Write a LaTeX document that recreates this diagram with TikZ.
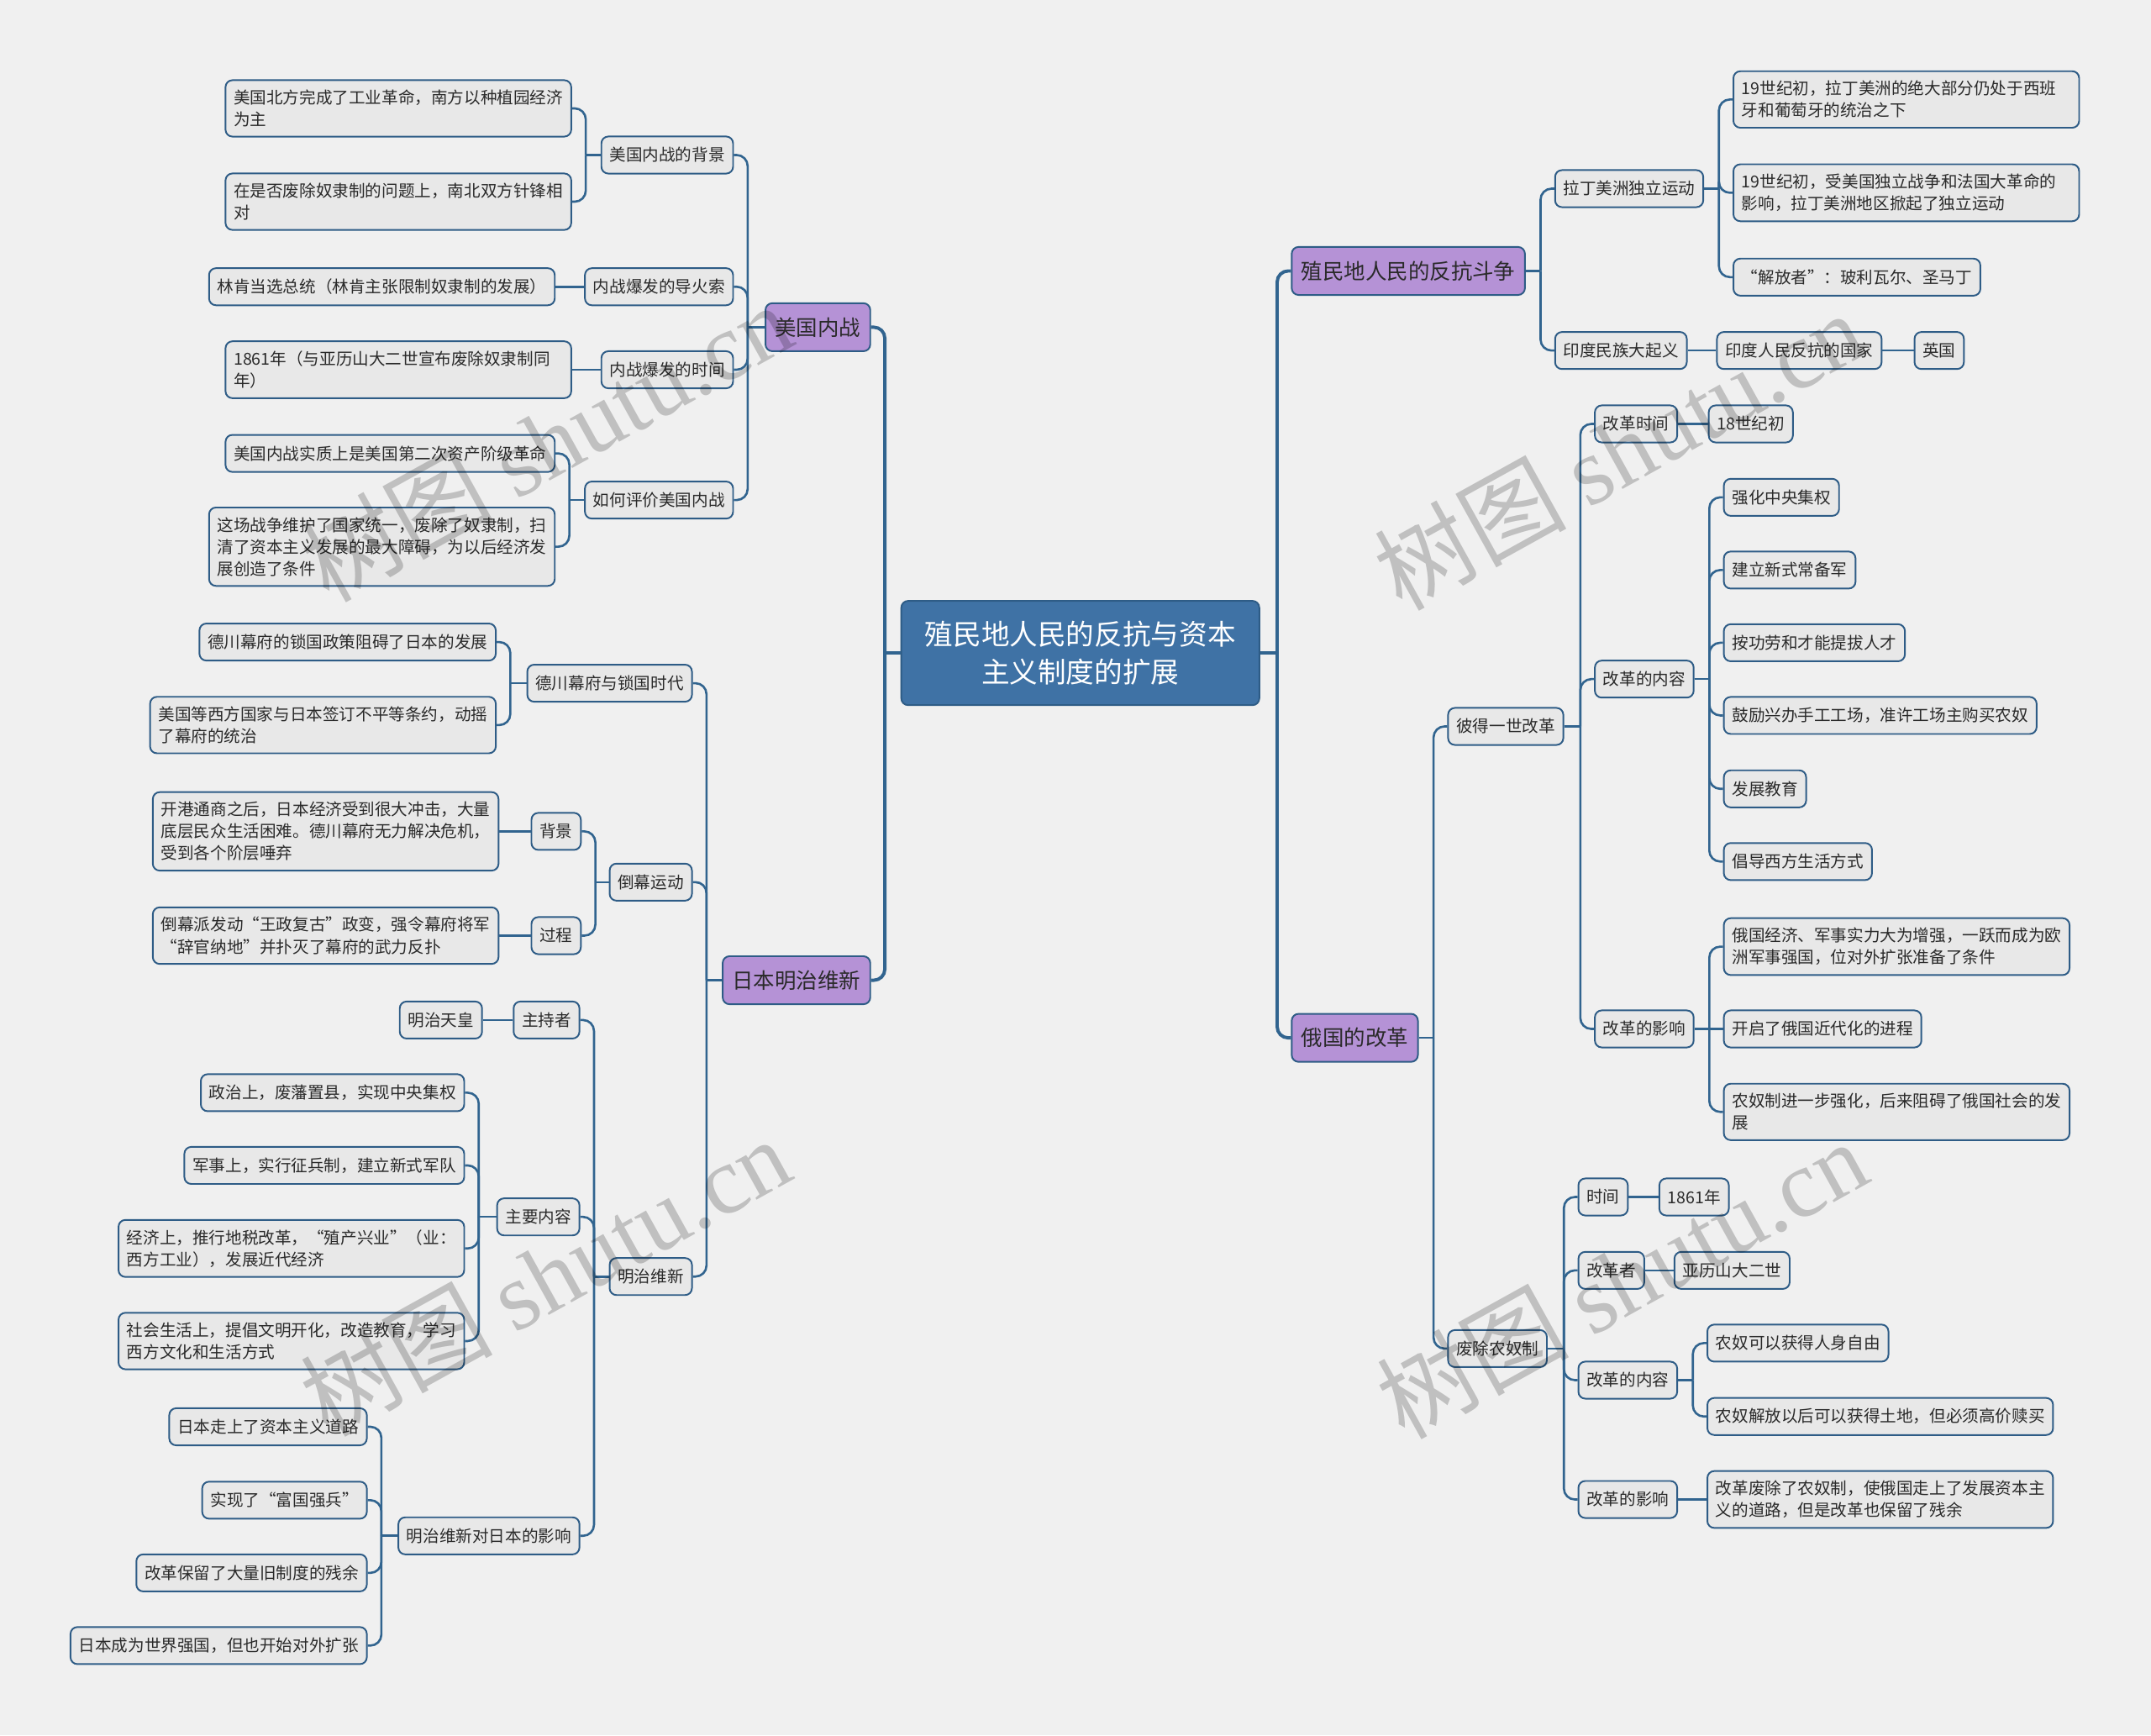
\documentclass[tikz,border=0pt]{standalone}
\usepackage{fontspec}
\setmainfont{Noto Sans CJK SC}
\newfontfamily\wmserif{Liberation Serif}
\usetikzlibrary{calc}
\definecolor{bgc}{HTML}{F0F0F0}
\definecolor{ctrc}{HTML}{3F72A5}
\definecolor{purc}{HTML}{B592D6}
\definecolor{grc}{HTML}{E8E8E8}
\definecolor{edgec}{HTML}{2E5C86}
\definecolor{linec}{HTML}{31648F}
\definecolor{txtc}{HTML}{2A2A2A}
\tikzset{
 centerbox/.style={draw=edgec, fill=ctrc, line width=0.6pt, rounded corners=2.5pt, text=white, font=\fontsize{10.3}{14}\selectfont, align=center, minimum width=130.5pt, minimum height=38pt, inner sep=0pt},
 mainbox/.style={draw=edgec, fill=purc, line width=0.6pt, rounded corners=2.5pt, text=txtc, font=\fontsize{7.8}{9}\selectfont, inner xsep=3.5pt, inner ysep=0pt, minimum height=17.5pt},
 subbox/.style={draw=edgec, fill=grc, line width=0.6pt, rounded corners=2.5pt, text=txtc, font=\fontsize{6}{8}\selectfont, inner xsep=3pt, inner ysep=3.5pt, minimum height=13.5pt},
 multibox/.style={subbox, text width=120pt, align=left},
 conA/.style={draw=linec, line width=1.2pt},
 conB/.style={draw=linec, line width=0.8pt},
 wmark/.style={rotate=29, text=black, opacity=0.2, font=\fontsize{35}{35}\selectfont, inner sep=0pt},
}
\newcommand\lkR[3]{%
 \draw[#1] let \p1=(#2.east), \p2=(#3.west) in (\p1) -- (\x2-5pt,\y1);
 \draw[#1, rounded corners=4pt] let \p1=(#2.east), \p2=(#3.west) in (\x2-5pt,\y1) -- (\x2-5pt,\y2) -- (\p2);}
\newcommand\lkL[3]{%
 \draw[#1] let \p1=(#2.west), \p2=(#3.east) in (\p1) -- (\x2+5pt,\y1);
 \draw[#1, rounded corners=4pt] let \p1=(#2.west), \p2=(#3.east) in (\x2+5pt,\y1) -- (\x2+5pt,\y2) -- (\p2);}
\newcommand\lkS[3]{\draw[#1] (#2) -- (#3);}
\begin{document}
\begin{tikzpicture}[x=0.5pt,y=-0.5pt]
\fill[bgc] (0,0) rectangle (1568,1265);
\useasboundingbox (0,0) rectangle (1568,1265);

% center and main branches
\node[centerbox] (c) at (787.5,476) {殖民地人民的反抗与资本\\主义制度的扩展};
\node[mainbox, anchor=east] (us) at (635,238.5) {美国内战};
\node[mainbox, anchor=east] (jp) at (635,714.5) {日本明治维新};
\node[mainbox, anchor=west] (col) at (941,197.5) {殖民地人民的反抗斗争};
\node[mainbox, anchor=west] (ru) at (941,756.5) {俄国的改革};

% US civil war
\node[subbox, anchor=east] (usA) at (535,113) {美国内战的背景};
\node[multibox, anchor=east] (usA1) at (417,79) {美国北方完成了工业革命，南方以种植园经济\\为主};
\node[multibox, anchor=east] (usA2) at (417,147) {在是否废除奴隶制的问题上，南北双方针锋相\\对};
\node[subbox, anchor=east] (usB) at (535,209) {内战爆发的导火索};
\node[subbox, anchor=east] (usB1) at (405,209) {林肯当选总统（林肯主张限制奴隶制的发展）};
\node[subbox, anchor=east] (usC) at (535,269.5) {内战爆发的时间};
\node[multibox, anchor=east] (usC1) at (417,269.5) {1861年（与亚历山大二世宣布废除奴隶制同\\年）};
\node[subbox, anchor=east] (usD) at (535,364.5) {如何评价美国内战};
\node[subbox, anchor=east] (usD1) at (405,330.5) {美国内战实质上是美国第二次资产阶级革命};
\node[multibox, anchor=east] (usD2) at (405,398.5) {这场战争维护了国家统一，废除了奴隶制，扫\\清了资本主义发展的最大障碍，为以后经济发\\展创造了条件};

% Japan
\node[subbox, anchor=east] (jpA) at (505,498) {德川幕府与锁国时代};
\node[subbox, anchor=east] (jpA1) at (362,468) {德川幕府的锁国政策阻碍了日本的发展};
\node[multibox, anchor=east] (jpA2) at (362,528.5) {美国等西方国家与日本签订不平等条约，动摇\\了幕府的统治};
\node[subbox, anchor=east] (jpB) at (505,643) {倒幕运动};
\node[subbox, anchor=east] (jpB1) at (424,606) {背景};
\node[multibox, anchor=east] (jpB1a) at (364,606) {开港通商之后，日本经济受到很大冲击，大量\\底层民众生活困难。德川幕府无力解决危机，\\受到各个阶层唾弃};
\node[subbox, anchor=east] (jpB2) at (424,682) {过程};
\node[multibox, anchor=east] (jpB2a) at (364,682) {倒幕派发动“王政复古”政变，强令幕府将军\\“辞官纳地”并扑灭了幕府的武力反扑};
\node[subbox, anchor=east] (jpC) at (505,930.5) {明治维新};
\node[subbox, anchor=east] (jpC1) at (423,743.5) {主持者};
\node[subbox, anchor=east] (jpC1a) at (352,743.5) {明治天皇};
\node[subbox, anchor=east] (jpC2) at (423,887) {主要内容};
\node[subbox, anchor=east] (jpC2a) at (339,796.5) {政治上，废藩置县，实现中央集权};
\node[subbox, anchor=east] (jpC2b) at (339,849.5) {军事上，实行征兵制，建立新式军队};
\node[multibox, anchor=east] (jpC2c) at (339,910) {经济上，推行地税改革，“殖产兴业”（业：\\西方工业），发展近代经济};
\node[multibox, anchor=east] (jpC2d) at (339,977.5) {社会生活上，提倡文明开化，改造教育，学习\\西方文化和生活方式};
\node[subbox, anchor=east] (jpC3) at (423,1119.5) {明治维新对日本的影响};
\node[subbox, anchor=east] (jpC3a) at (268,1040) {日本走上了资本主义道路};
\node[subbox, anchor=east] (jpC3b) at (268,1093.5) {实现了“富国强兵”};
\node[subbox, anchor=east] (jpC3c) at (268,1146.5) {改革保留了大量旧制度的残余};
\node[subbox, anchor=east] (jpC3d) at (268,1199.5) {日本成为世界强国，但也开始对外扩张};

% colonial struggles
\node[subbox, anchor=west] (colA) at (1133,137.5) {拉丁美洲独立运动};
\node[multibox, anchor=west] (colA1) at (1263,72.5) {19世纪初，拉丁美洲的绝大部分仍处于西班\\牙和葡萄牙的统治之下};
\node[multibox, anchor=west] (colA2) at (1263,140.5) {19世纪初，受美国独立战争和法国大革命的\\影响，拉丁美洲地区掀起了独立运动};
\node[subbox, anchor=west] (colA3) at (1263,202) {“解放者”：玻利瓦尔、圣马丁};
\node[subbox, anchor=west] (colB) at (1133,255.5) {印度民族大起义};
\node[subbox, anchor=west] (colB1) at (1251,255.5) {印度人民反抗的国家};
\node[subbox, anchor=west] (colB1a) at (1395,255.5) {英国};

% Russia
\node[subbox, anchor=west] (ruA) at (1055,529.5) {彼得一世改革};
\node[subbox, anchor=west] (ruA1) at (1162,309) {改革时间};
\node[subbox, anchor=west] (ruA1a) at (1245,309) {18世纪初};
\node[subbox, anchor=west] (ruA2) at (1162,495) {改革的内容};
\node[subbox, anchor=west] (ruA2a) at (1256,362.5) {强化中央集权};
\node[subbox, anchor=west] (ruA2b) at (1256,415.5) {建立新式常备军};
\node[subbox, anchor=west] (ruA2c) at (1256,468.5) {按功劳和才能提拔人才};
\node[subbox, anchor=west] (ruA2d) at (1256,521.5) {鼓励兴办手工工场，准许工场主购买农奴};
\node[subbox, anchor=west] (ruA2e) at (1256,575) {发展教育};
\node[subbox, anchor=west] (ruA2f) at (1256,628) {倡导西方生活方式};
\node[subbox, anchor=west] (ruA3) at (1162,750) {改革的影响};
\node[multibox, anchor=west] (ruA3a) at (1256,690) {俄国经济、军事实力大为增强，一跃而成为欧\\洲军事强国，位对外扩张准备了条件};
\node[subbox, anchor=west] (ruA3b) at (1256,750) {开启了俄国近代化的进程};
\node[multibox, anchor=west] (ruA3c) at (1256,810.5) {农奴制进一步强化，后来阻碍了俄国社会的发\\展};
\node[subbox, anchor=west] (ruB) at (1055,983) {废除农奴制};
\node[subbox, anchor=west] (ruB1) at (1150,872.5) {时间};
\node[subbox, anchor=west] (ruB1a) at (1209,872.5) {1861年};
\node[subbox, anchor=west] (ruB2) at (1150,926) {改革者};
\node[subbox, anchor=west] (ruB2a) at (1220,926) {亚历山大二世};
\node[subbox, anchor=west] (ruB3) at (1150,1006) {改革的内容};
\node[subbox, anchor=west] (ruB3a) at (1244,979) {农奴可以获得人身自由};
\node[subbox, anchor=west] (ruB3b) at (1244,1032.5) {农奴解放以后可以获得土地，但必须高价赎买};
\node[subbox, anchor=west] (ruB4) at (1150,1093) {改革的影响};
\node[multibox, anchor=west] (ruB4a) at (1244,1093) {改革废除了农奴制，使俄国走上了发展资本主\\义的道路，但是改革也保留了残余};

% connectors
\lkL{conA}{c}{us}
\lkL{conA}{c}{jp}
\lkR{conA}{c}{col}
\lkR{conA}{c}{ru}

\lkL{conB}{us}{usA}
\lkL{conB}{us}{usB}
\lkL{conB}{us}{usC}
\lkL{conB}{us}{usD}
\lkL{conB}{usA}{usA1}
\lkL{conB}{usA}{usA2}
\lkS{conB}{usB.west}{usB1.east}
\lkS{conB}{usC.west}{usC1.east}
\lkL{conB}{usD}{usD1}
\lkL{conB}{usD}{usD2}

\lkL{conB}{jp}{jpA}
\lkL{conB}{jp}{jpB}
\lkL{conB}{jp}{jpC}
\lkL{conB}{jpA}{jpA1}
\lkL{conB}{jpA}{jpA2}
\lkL{conB}{jpB}{jpB1}
\lkL{conB}{jpB}{jpB2}
\lkS{conB}{jpB1.west}{jpB1a.east}
\lkS{conB}{jpB2.west}{jpB2a.east}
\lkL{conB}{jpC}{jpC1}
\lkL{conB}{jpC}{jpC2}
\lkL{conB}{jpC}{jpC3}
\lkS{conB}{jpC1.west}{jpC1a.east}
\lkL{conB}{jpC2}{jpC2a}
\lkL{conB}{jpC2}{jpC2b}
\lkL{conB}{jpC2}{jpC2c}
\lkL{conB}{jpC2}{jpC2d}
\lkL{conB}{jpC3}{jpC3a}
\lkL{conB}{jpC3}{jpC3b}
\lkL{conB}{jpC3}{jpC3c}
\lkL{conB}{jpC3}{jpC3d}

\lkR{conB}{col}{colA}
\lkR{conB}{col}{colB}
\lkR{conB}{colA}{colA1}
\lkR{conB}{colA}{colA2}
\lkR{conB}{colA}{colA3}
\lkS{conB}{colB.east}{colB1.west}
\lkS{conB}{colB1.east}{colB1a.west}

\lkR{conB}{ru}{ruA}
\lkR{conB}{ru}{ruB}
\lkR{conB}{ruA}{ruA1}
\lkR{conB}{ruA}{ruA2}
\lkR{conB}{ruA}{ruA3}
\lkS{conB}{ruA1.east}{ruA1a.west}
\lkR{conB}{ruA2}{ruA2a}
\lkR{conB}{ruA2}{ruA2b}
\lkR{conB}{ruA2}{ruA2c}
\lkR{conB}{ruA2}{ruA2d}
\lkR{conB}{ruA2}{ruA2e}
\lkR{conB}{ruA2}{ruA2f}
\lkR{conB}{ruA3}{ruA3a}
\lkS{conB}{ruA3.east}{ruA3b.west}
\lkR{conB}{ruA3}{ruA3c}
\lkR{conB}{ruB}{ruB1}
\lkR{conB}{ruB}{ruB2}
\lkR{conB}{ruB}{ruB3}
\lkR{conB}{ruB}{ruB4}
\lkS{conB}{ruB1.east}{ruB1a.west}
\lkS{conB}{ruB2.east}{ruB2a.west}
\lkR{conB}{ruB3}{ruB3a}
\lkR{conB}{ruB3}{ruB3b}
\lkS{conB}{ruB4.east}{ruB4a.west}

% watermarks
\node[wmark] (wm1) at (398,322) {树图 {\wmserif shutu.cn}};
\node[wmark] (wm2) at (1180,328) {树图 {\wmserif shutu.cn}};
\node[wmark] (wm3) at (397,930) {树图 {\wmserif shutu.cn}};
\node[wmark] (wm4) at (1182,932) {树图 {\wmserif shutu.cn}};
\end{tikzpicture}
\end{document}
